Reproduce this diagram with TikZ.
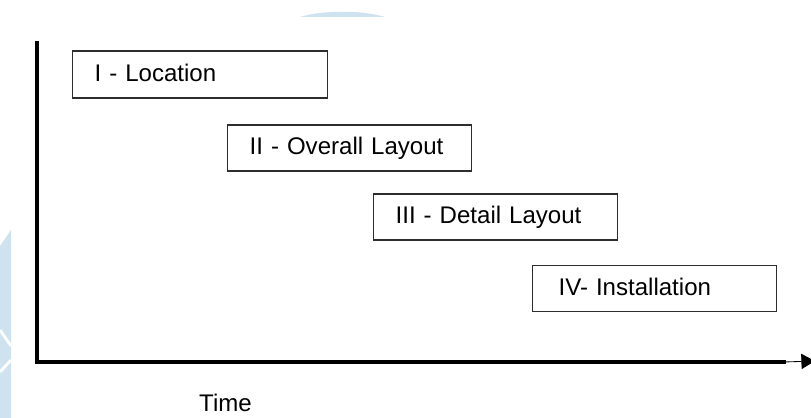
\documentclass[tikz,border=0pt]{standalone}
\usepackage{tikz}
\usetikzlibrary{arrows.meta}
\usepackage{fontspec,xcolor}
\setmainfont{Liberation Sans}
\definecolor{wmblue}{RGB}{207,226,240}
\definecolor{boxgray}{RGB}{45,45,45}
\newcommand{\phaseFont}{\fontsize{17.1}{21}\selectfont}

\begin{document}
\begin{tikzpicture}[x=0.025cm, y=-0.025cm,
  phasebox/.style={draw=boxgray, line width=0.9pt, anchor=west, align=left,
    minimum width=6.1cm, minimum height=1.15cm, text width=5cm, inner xsep=0.55cm,
    text height=12.3pt, text depth=2.8pt, font=\phaseFont},
  axisline/.style={line width=2.85pt, line cap=rect}]
\useasboundingbox (0,0) rectangle (811,418);
\fill[wmblue] (300,17) .. controls (322,10) and (363,10) .. (385,17) -- cycle;
\fill[wmblue] (0,246) -- (11,230) -- (11,418) -- (0,418) -- cycle;
\draw[white, line width=2pt] (0,330) -- (11,346);
\draw[white, line width=2pt] (0,372) -- (11,360);
\coordinate (ytop) at (37,43);
\coordinate (origin) at (37,362);
\coordinate (xend) at (784,362);
\coordinate (xtip) at (815,361);
\node[phasebox, minimum width=6.375cm, minimum height=1.175cm, text width=5.275cm] (loc) at (72,74.5) {I - Location};
\node[phasebox] (overall) at (227,148) {II - Overall Layout};
\node[phasebox] (detail) at (373,217) {III - Detail Layout};
\node[phasebox, inner xsep=0.65cm, text width=4.8cm] (install) at (532,288.5) {IV- Installation};
\draw[axisline] (ytop) -- (origin) -- (xend);
\draw[line width=0.6pt, -{Triangle[length=0.34cm, width=0.38cm]}] (xend) -- (xtip);
\node[anchor=base, font=\phaseFont] (time) at (225.5,412) {Time};
\end{tikzpicture}
\end{document}
